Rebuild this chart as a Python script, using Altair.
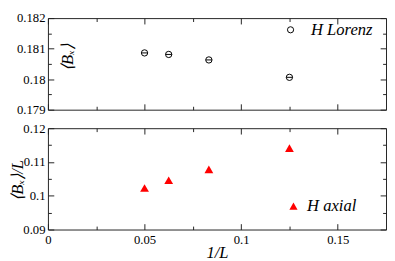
import altair as alt
import pandas as pd

# ---- data ----
inv_L = [0.05, 0.0625, 0.0833, 0.125]
bx_lorenz = [0.18086, 0.18081, 0.18063, 0.18006]
bx_axial = [0.1023, 0.1046, 0.1078, 0.1141]

x_ticks_major = [0, 0.05, 0.1, 0.15]
x_ticks_minor = [0.025, 0.075, 0.125]
top_ticks_major = [0.179, 0.18, 0.181, 0.182]
top_ticks_minor = [0.1795, 0.1805, 0.1815]
bot_ticks_major = [0.09, 0.1, 0.11, 0.12]
bot_ticks_minor = [0.095, 0.105, 0.115]

legend_labels = ["H Lorenz", "H axial"]
x_title = "1/L"
y_titles = ["⟨Bₓ⟩", "⟨Bₓ⟩/L"]

W, H1, H2 = 347, 94, 104
FONT = "Liberation Serif"
FRAME = "#222222"
MAJ, MIN = 6, 3.5

top_df = pd.DataFrame({"x": inv_L, "y": bx_lorenz})
bot_df = pd.DataFrame({"x": inv_L, "y": bx_axial})

xscale = alt.Scale(domain=[0, 0.175], nice=False, zero=False)


def tick_axis(orient, offset, values, size):
    return alt.Axis(orient=orient, offset=offset, values=values, tickSize=size,
                    labels=False, domain=False, grid=False, title=None,
                    tickColor=FRAME, tickWidth=1)


def panel(df, ymaj, ymin, ydomain, height, ytitle, tx, ty, marks, xlabels):
    yscale = alt.Scale(domain=ydomain, nice=False, zero=False)
    y_axes = [
        alt.Axis(orient="left", values=ymaj, format="~g", ticks=False, domain=False,
                 grid=False, labelFont=FONT, labelFontSize=13, labelPadding=3,
                 labelColor="black", title=ytitle, titleFont=FONT, titleFontSize=17,
                 titleFontStyle="italic", titleFontWeight="normal", titleAngle=270,
                 titleAlign="center", titleBaseline="middle", titleX=tx, titleY=ty,
                 titleColor="black"),
        tick_axis("right", -W, ymaj, MAJ),
        tick_axis("right", -W, ymin, MIN),
        tick_axis("left", -W, ymaj, MAJ),
        tick_axis("left", -W, ymin, MIN),
    ]
    x_axes = [
        tick_axis("top", -height, x_ticks_major, MAJ),
        tick_axis("top", -height, x_ticks_minor, MIN),
        tick_axis("bottom", -height, x_ticks_major, MAJ),
        tick_axis("bottom", -height, x_ticks_minor, MIN),
    ]
    if xlabels:
        x_axes.append(alt.Axis(orient="bottom", values=x_ticks_major, format="~g",
                               ticks=False, domain=False, grid=False, labelFlush=False,
                               labelFont=FONT, labelFontSize=13, labelPadding=4,
                               labelColor="black", title=x_title, titleFont=FONT,
                               titleFontSize=17, titleFontStyle="italic",
                               titleFontWeight="normal", titleX=W / 2, titleY=23.5,
                               titleBaseline="middle", titleColor="black"))
    else:
        x_axes.append(None)

    layers = []
    for i, (xa, ya) in enumerate(zip(x_axes, y_axes)):
        mk = marks[i] if i < len(marks) else alt.Chart(df).mark_point(opacity=0)
        layers.append(mk.encode(
            x=alt.X("x:Q", scale=xscale, axis=xa),
            y=alt.Y("y:Q", scale=yscale, axis=ya),
        ))
    return layers


# top panel marks
circ = alt.Chart(top_df).mark_point(shape="circle", size=42, filled=False,
                                    stroke="black", strokeWidth=1, opacity=1)
bar = alt.Chart(top_df).mark_point(shape="M-1,0L1,0", size=42, filled=False,
                                   stroke="black", strokeWidth=1, opacity=1)
top_layers = panel(top_df, top_ticks_major, top_ticks_minor, [0.179, 0.182], H1,
                   y_titles[0], 20, 40, [circ, bar], False)

leg_top = pd.DataFrame({"label": [legend_labels[0]]})
top_layers.append(alt.Chart(leg_top).mark_point(shape="circle", size=40, filled=False,
                                                stroke="black", strokeWidth=1, opacity=1)
                  .encode(x=alt.value(249), y=alt.value(12)))
top_layers.append(alt.Chart(leg_top).mark_text(align="left", baseline="middle", font=FONT,
                                               fontSize=17, fontStyle="italic", color="black")
                  .encode(x=alt.value(270), y=alt.value(12), text="label:N"))

top = alt.layer(*top_layers).resolve_axis(x="independent", y="independent").properties(
    width=W, height=H1)

# bottom panel marks
tri = alt.Chart(bot_df).mark_point(shape="triangle-up", size=81, filled=True,
                                   color="#ff0000", opacity=1, strokeWidth=0)
bot_layers = panel(bot_df, bot_ticks_major, bot_ticks_minor, [0.09, 0.12], H2,
                   y_titles[1], -31, 53, [tri], True)

leg_bot = pd.DataFrame({"label": [legend_labels[1]]})
bot_layers.append(alt.Chart(leg_bot).mark_point(shape="triangle-up", size=70, filled=True,
                                                color="#ff0000", opacity=1, strokeWidth=0)
                  .encode(x=alt.value(252), y=alt.value(80)))
bot_layers.append(alt.Chart(leg_bot).mark_text(align="left", baseline="middle", font=FONT,
                                               fontSize=17, fontStyle="italic", color="black")
                  .encode(x=alt.value(266), y=alt.value(80), text="label:N"))

bottom = alt.layer(*bot_layers).resolve_axis(x="independent", y="independent").properties(
    width=W, height=H2)

chart = alt.vconcat(top, bottom, spacing=19, bounds="flush").properties(
    padding={"left": 0, "top": 0, "right": 0, "bottom": 0},
    background="white",
).configure_view(stroke=FRAME, strokeWidth=1)

chart.save("out.html", embed_options={"renderer": "svg", "actions": False})
